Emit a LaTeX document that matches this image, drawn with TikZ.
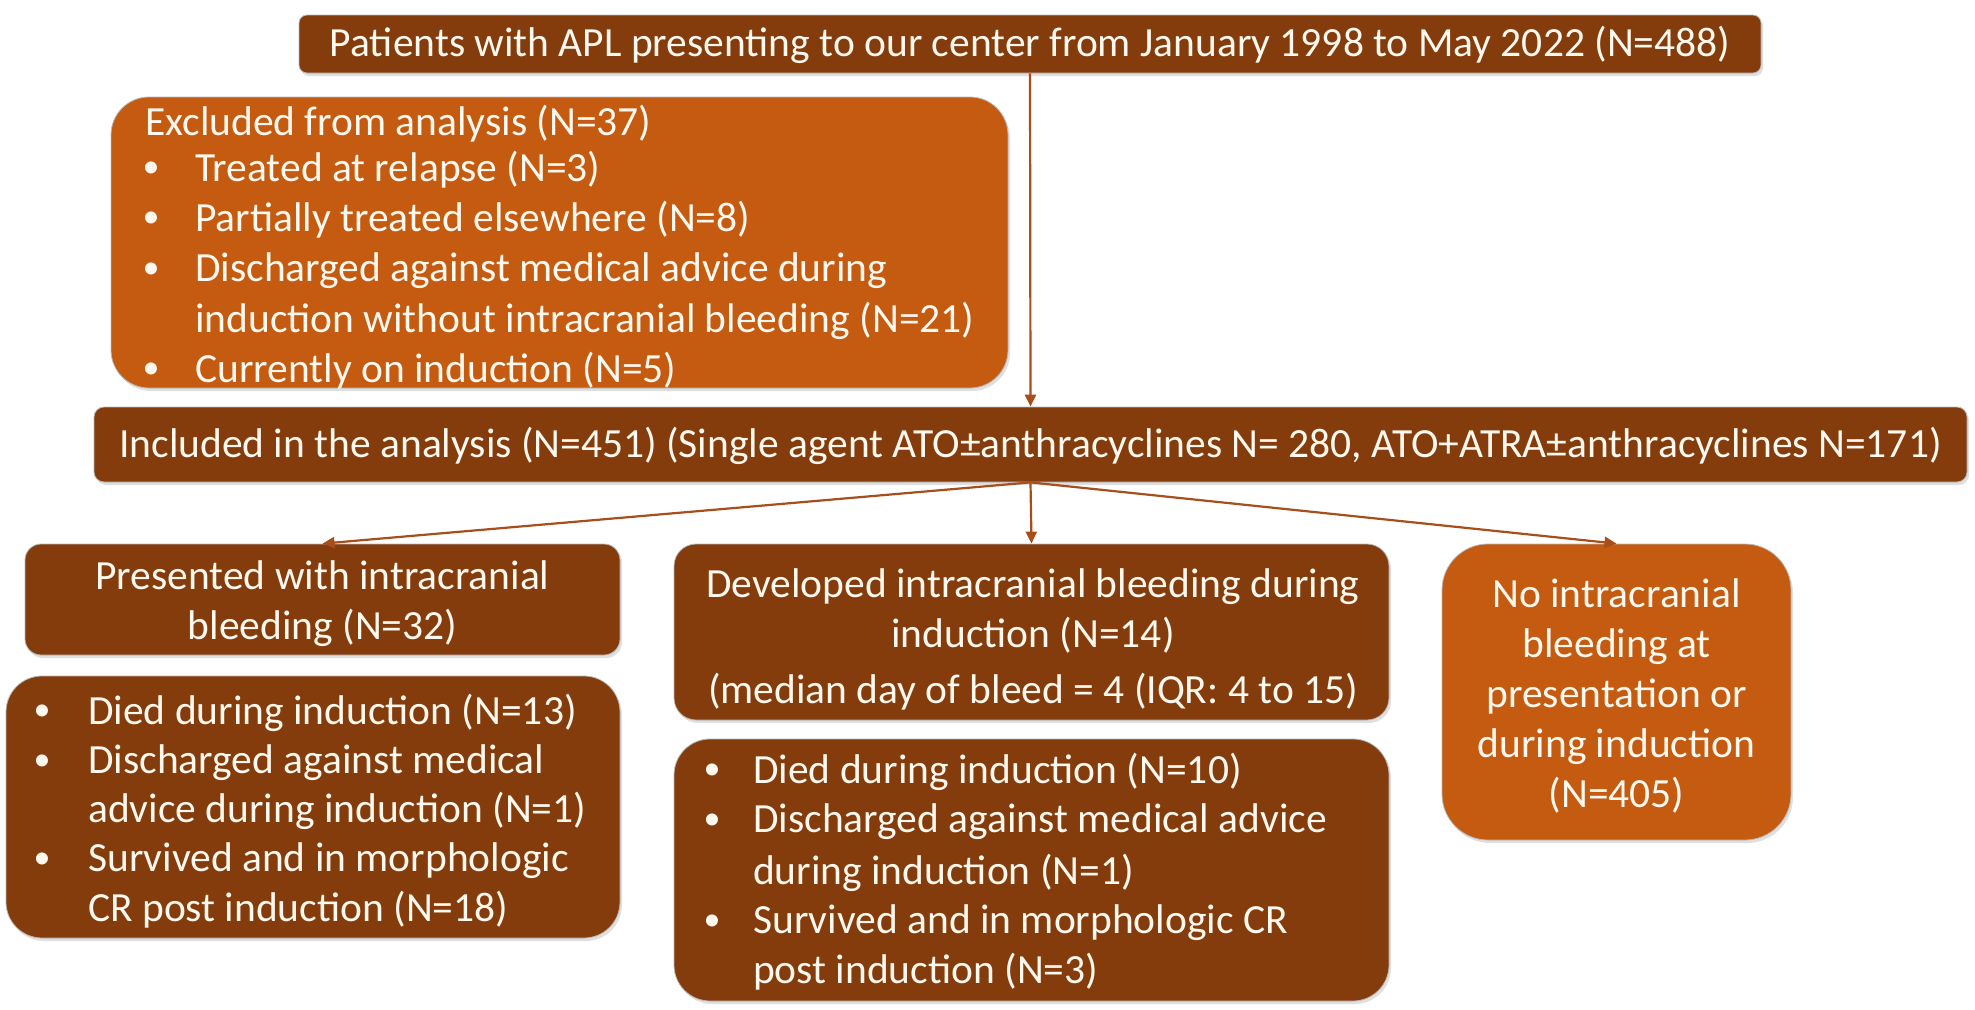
\documentclass[tikz,border=0pt]{standalone}
\usepackage{fontspec}
\setmainfont{Carlito}
\usetikzlibrary{arrows.meta,shadows}
\definecolor{dbrown}{HTML}{843C0C}
\definecolor{orng}{HTML}{C55A11}
\definecolor{arrcol}{HTML}{A84E1A}
\definecolor{txtcol}{HTML}{FFF8EE}
\begin{document}
\begin{tikzpicture}[x=1pt,y=-1pt,
  box/.style={rounded corners=#1, draw=gray!55, line width=0.8pt, inner sep=0pt,
    drop shadow={opacity=0.25, shadow xshift=2pt, shadow yshift=-3pt}},
  ctext/.style={text=txtcol, font=\fontsize{41.5}{50}\selectfont, align=center, inner sep=0pt},
  ln/.style={text=txtcol, font=\fontsize{41.5}{50}\selectfont, inner sep=0pt, anchor=west},
  bul/.style={text=txtcol, font=\fontsize{34}{50}\selectfont, inner sep=0pt},
  conn/.style={draw=arrcol, line width=2.2pt, -{Triangle[length=12pt,width=11pt]}}
]
\useasboundingbox (0,0) rectangle (1975,1009);

% top
\node[box=8pt, fill=dbrown, minimum width=1462pt, minimum height=58pt] (top) at (1030,44) {};
\node[ctext] (topt) at (1030,45)
  {Patients with APL presenting to our center from January 1998 to May 2022 (N=488)};

% excluded
\node[box=38pt, fill=orng, minimum width=897pt, minimum height=291pt] (excl) at (559.5,242.5) {};
\node[ln] (ex0) at (145,124) {Excluded from analysis (N=37)};
\node[bul] (eb1) at (151,170) {•};
\node[ln] (ex1) at (195,170) {Treated at relapse (N=3)};
\node[bul] (eb2) at (151,220) {•};
\node[ln] (ex2) at (195,220) {Partially treated elsewhere (N=8)};
\node[bul] (eb3) at (151,271) {•};
\node[ln] (ex3) at (195,271) {Discharged against medical advice during};
\node[ln] (ex4) at (195,321) {induction without intracranial bleeding (N=21)};
\node[bul] (eb5) at (151,371) {•};
\node[ln] (ex5) at (195,371) {Currently on induction (N=5)};

% included
\node[box=10pt, fill=dbrown, minimum width=1873pt, minimum height=75pt] (incl) at (1030.5,444.5) {};
\node[ctext] (inclt) at (1030.5,446)
  {Included in the analysis (N=451) (Single agent ATO±anthracyclines N= 280, ATO+ATRA±anthracyclines N=171)};

% presented
\node[box=16pt, fill=dbrown, minimum width=595pt, minimum height=111pt] (pres) at (322.5,599.5) {};
\node[ctext] (prest) at (322.5,604) {Presented with intracranial\\bleeding (N=32)};
\node[box=36pt, fill=dbrown, minimum width=614pt, minimum height=262pt] (presl) at (313,807) {};
\node[bul] (pb1) at (42,713) {•};
\node[ln] (pl1) at (88,713) {Died during induction (N=13)};
\node[bul] (pb2) at (42,763) {•};
\node[ln] (pl2) at (88,763) {Discharged against medical};
\node[ln] (pl3) at (88,811) {advice during induction (N=1)};
\node[bul] (pb4) at (42,861) {•};
\node[ln] (pl4) at (88,861) {Survived and in morphologic};
\node[ln] (pl5) at (88,910) {CR post induction (N=18)};

% developed
\node[box=22pt, fill=dbrown, minimum width=715pt, minimum height=176pt] (dev) at (1031.5,632) {};
\node[ctext] (devt) at (1033,639)
  {Developed intracranial bleeding during\\induction (N=14)\\[6pt] (median day of bleed = 4 (IQR: 4 to 15)};
\node[box=36pt, fill=dbrown, minimum width=715pt, minimum height=262pt] (devl) at (1031.5,870) {};
\node[bul] (db1) at (712,772) {•};
\node[ln] (dl1) at (753,772) {Died during induction (N=10)};
\node[bul] (db2) at (712,822) {•};
\node[ln] (dl2) at (753,822) {Discharged against medical advice};
\node[ln] (dl3) at (753,873) {during induction (N=1)};
\node[bul] (db4) at (712,923) {•};
\node[ln] (dl4) at (753,923) {Survived and in morphologic CR};
\node[ln] (dl5) at (753,972) {post induction (N=3)};

% no ICH
\node[box=46pt, fill=orng, minimum width=349pt, minimum height=296pt] (noic) at (1616.5,692) {};
\node[ctext] (noict) at (1616.5,696)
  {No intracranial\\bleeding at\\presentation or\\during induction\\(N=405)};

% connectors
\draw[conn] (top.south) -- (incl.north);
\draw[conn] (incl.south) -- (pres.north);
\draw[conn] (incl.south) -- (dev.north);
\draw[conn] (incl.south) -- (noic.north);
\end{tikzpicture}
\end{document}
